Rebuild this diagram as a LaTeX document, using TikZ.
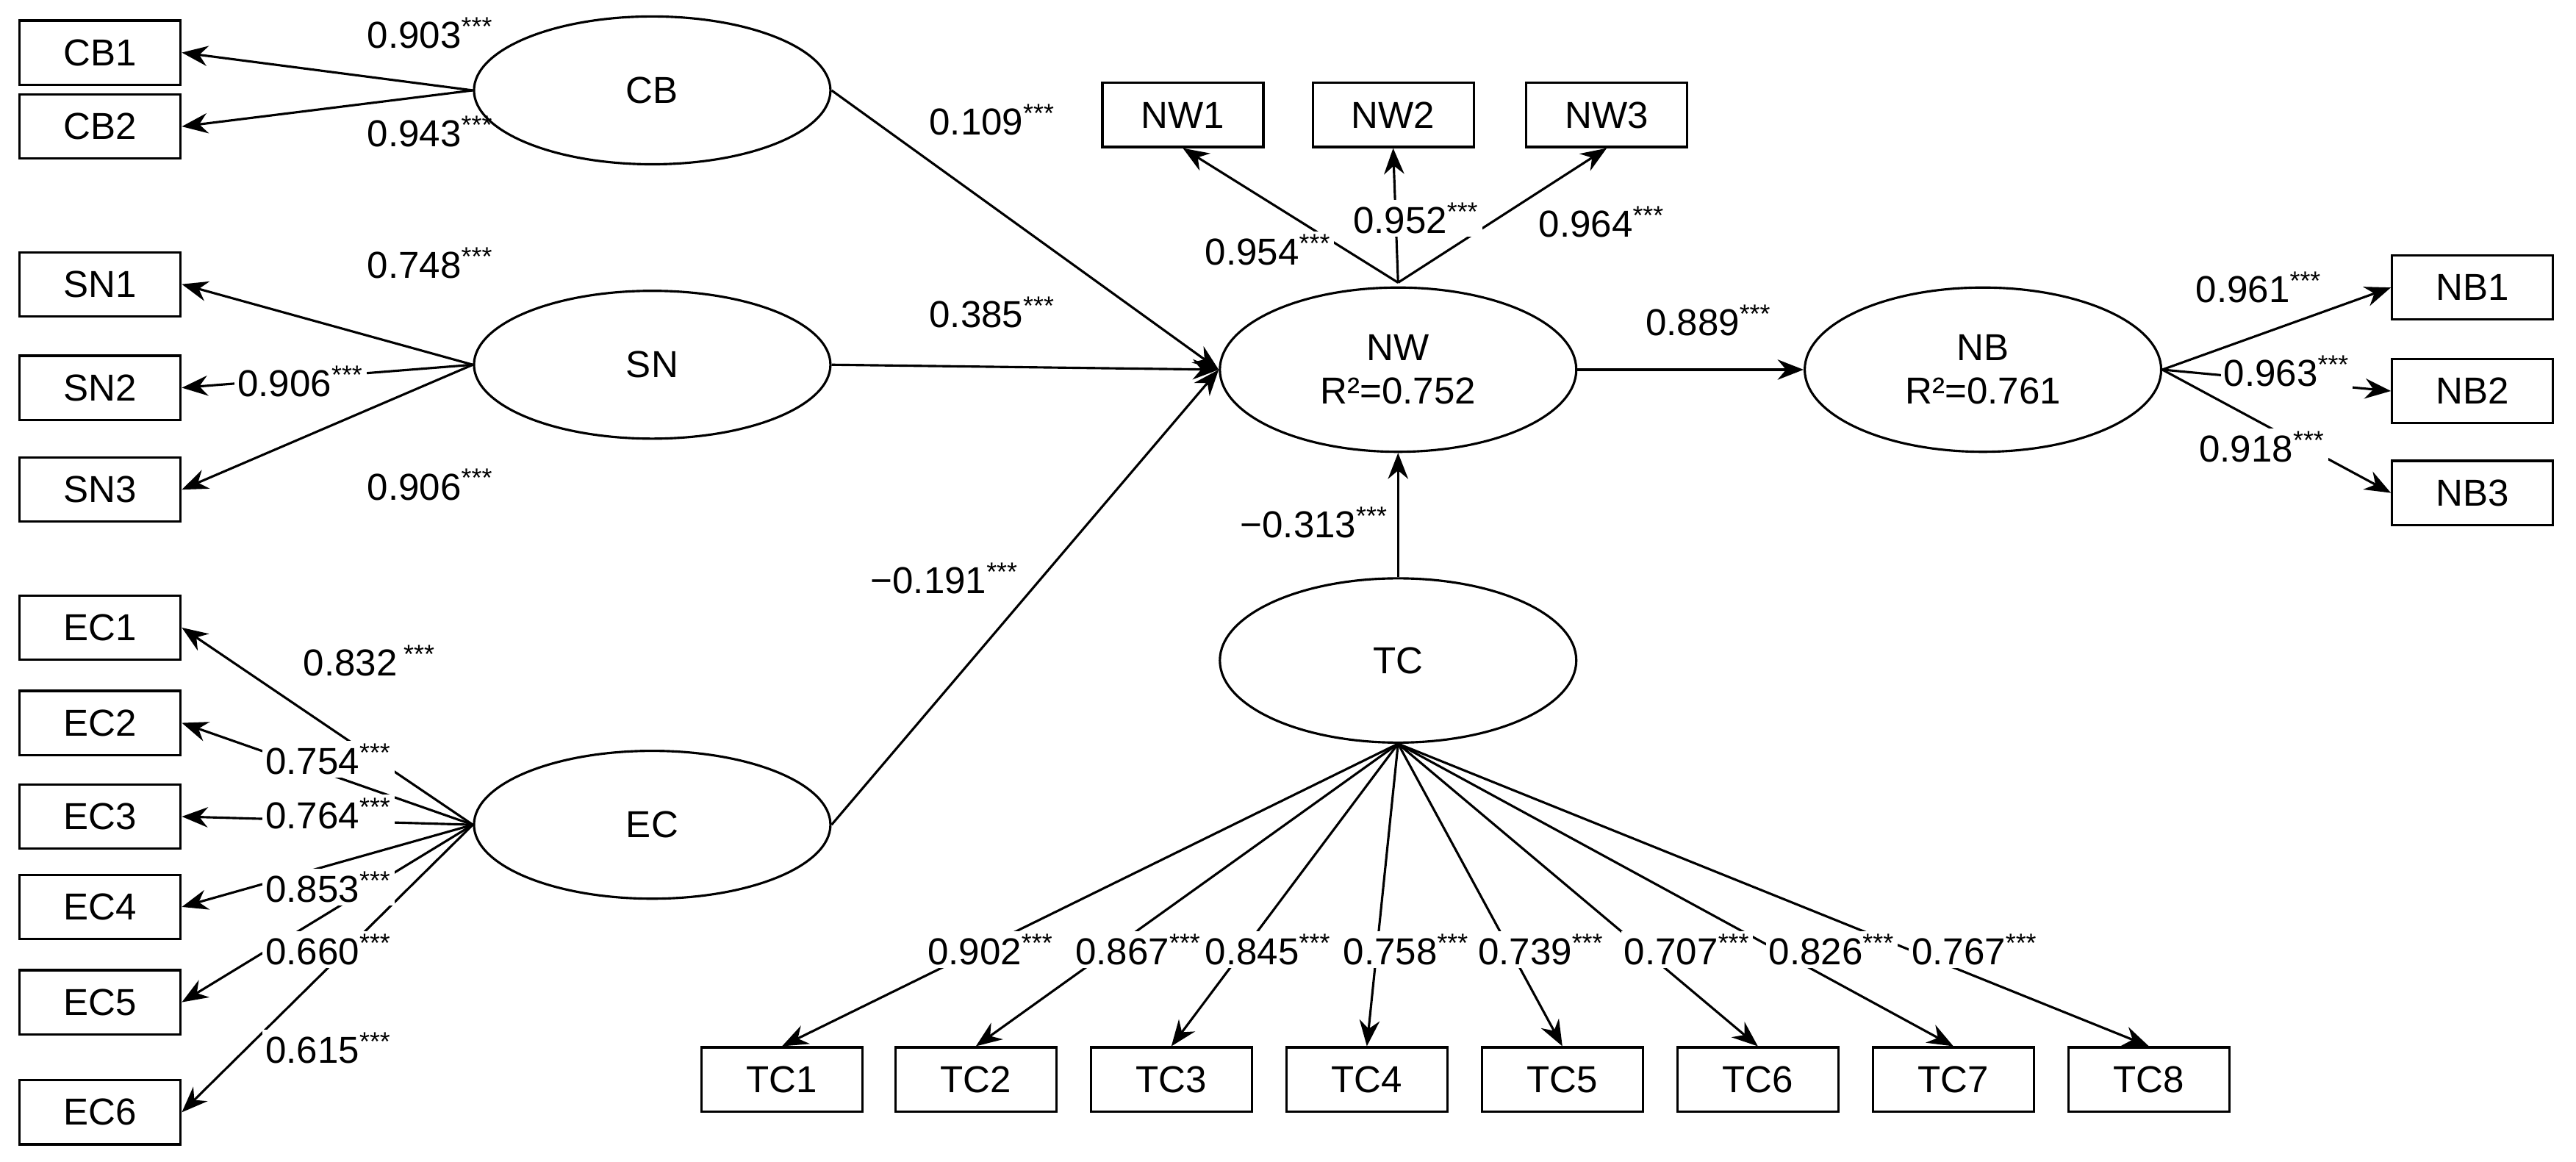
\documentclass[tikz,border=0pt]{standalone}
\usepackage{fontspec}
\setmainfont{Liberation Sans}
\usetikzlibrary{arrows.meta, shapes.geometric}
\newcommand{\sig}[1]{#1\textsuperscript{***}}
\begin{document}
\begin{tikzpicture}[x=0.02cm, y=-0.02cm, font=\fontsize{13}{15}\selectfont,
  ind/.style={draw, line width=0.8pt, minimum width=1.96cm, minimum height=0.78cm, inner sep=0pt},
  lat/.style={draw, ellipse, line width=0.8pt, minimum width=4.34cm, minimum height=1.8cm, align=center, inner sep=0pt},
  arr/.style={-{Stealth[length=9pt, width=7pt]}, line width=0.8pt},
  lbl/.style={fill=white, inner sep=1pt}]

\useasboundingbox (0,0) rectangle (1568,707);

%% Latent variables
\node [lat] (CB) at (397, 55) {CB};
\node [lat] (SN) at (397, 222) {SN};
\node [lat] (EC) at (397, 502) {EC};
\node [lat, minimum height=2cm] (NW) at (851, 225) {NW\\R²=0.752};
\node [lat, minimum height=2cm] (NB) at (1207, 225) {NB\\R²=0.761};
\node [lat, minimum height=2cm] (TC) at (851, 402) {TC};

%% Indicators
\node [ind] (CB1) at (61, 32) {CB1};
\node [ind] (CB2) at (61, 77) {CB2};
\node [ind] (SN1) at (61, 173) {SN1};
\node [ind] (SN2) at (61, 236) {SN2};
\node [ind] (SN3) at (61, 298) {SN3};
\foreach \n/\y in {1/382, 2/440, 3/497, 4/552, 5/610, 6/677}
  \node [ind] (EC\n) at (61, \y) {EC\n};
\node [ind] (NW1) at (720, 70) {NW1};
\node [ind] (NW2) at (848, 70) {NW2};
\node [ind] (NW3) at (978, 70) {NW3};
\node [ind] (NB1) at (1505, 175) {NB1};
\node [ind] (NB2) at (1505, 238) {NB2};
\node [ind] (NB3) at (1505, 300) {NB3};
\foreach \n/\x in {1/476, 2/594, 3/713, 4/832, 5/951, 6/1070, 7/1189, 8/1308}
  \node [ind] (TC\n) at (\x, 657) {TC\n};

%% Loadings
\draw [arr] (CB.west) -- (CB1.east);
\draw [arr] (CB.west) -- (CB2.east);
\node at (262, 20) {\sig{0.903}};
\node at (262, 80) {\sig{0.943}};

\draw [arr] (SN.west) -- (SN1.east);
\draw [arr] (SN.west) -- (SN2.east);
\draw [arr] (SN.west) -- (SN3.east);
\node at (262, 160) {\sig{0.748}};
\node [lbl] at (183, 232) {\sig{0.906}};
\node at (262, 295) {\sig{0.906}};

\foreach \n in {1,...,6}
  \draw [arr] (EC.west) -- (EC\n.east);
\node [lbl] at (225, 402) {0.832\,\textsuperscript{***}};
\node [lbl] at (200, 462) {\sig{0.754}};
\node [lbl] at (200, 495) {\sig{0.764}};
\node [lbl] at (200, 540) {\sig{0.853}};
\node [lbl] at (200, 578) {\sig{0.660}};
\node [lbl] at (200, 638) {\sig{0.615}};

\coordinate (NWt) at (851, 172);
\draw [arr] (NWt) -- (NW1.south);
\draw [arr] (NWt) -- (NW2.south);
\draw [arr] (NWt) -- (NW3.south);
\node [lbl] at (772, 152) {\sig{0.954}};
\node [lbl] at (862, 133) {\sig{0.952}};
\node [lbl] at (975, 135) {\sig{0.964}};

\draw [arr] (NB.east) -- (NB1.west);
\draw [arr] (NB.east) -- (NB2.west);
\draw [arr] (NB.east) -- (NB3.west);
\node at (1375, 175) {\sig{0.961}};
\node [lbl] at (1392, 226) {\sig{0.963}};
\node [lbl] at (1377, 272) {\sig{0.918}};

\foreach \n in {1,...,8}
  \draw [arr] (TC.south) -- (TC\n.north);
\foreach \v/\x in {0.902/603, 0.867/693, 0.845/772, 0.758/856, 0.739/938, 0.707/1027, 0.826/1115, 0.767/1202}
  \node [lbl] at (\x, 578) {\sig{\v}};

%% Structural paths
\draw [arr] (CB.east) -- (NW.west);
\draw [arr] (SN.east) -- (NW.west);
\draw [arr] (EC.east) -- (NW.west);
\draw [arr] (TC.north) -- (NW.south);
\draw [arr] (NW.east) -- (NB.west);
\node at (604, 73) {\sig{0.109}};
\node at (604, 190) {\sig{0.385}};
\node [lbl] at (575, 352) {\sig{−0.191}};
\node at (1040, 195) {\sig{0.889}};
\node at (800, 318) {\sig{−0.313}};

\end{tikzpicture}
\end{document}
